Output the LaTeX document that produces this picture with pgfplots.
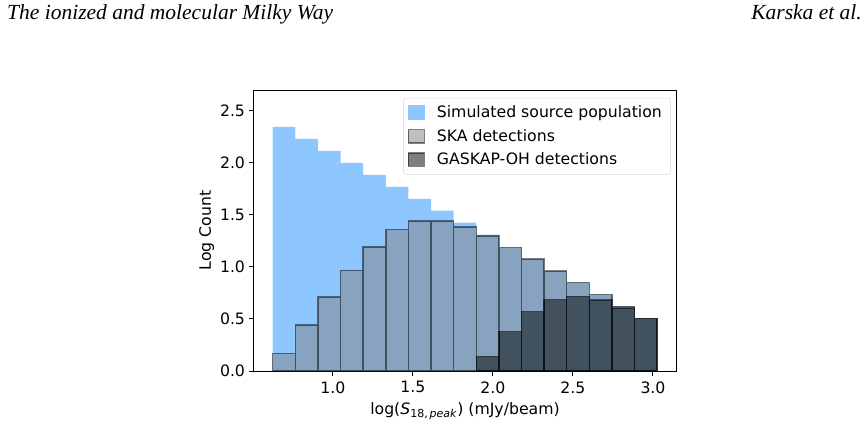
\documentclass[border=0pt]{standalone}
\usepackage{fontspec}
\setmainfont{DejaVu Sans}
\newfontfamily\headfont{Liberation Serif}
\usepackage{pgfplots}
\pgfplotsset{compat=1.18}

\definecolor{dodger}{RGB}{30,144,255}
\definecolor{legedge}{RGB}{210,210,210}

% bin edges (log S) and histogram heights (log count)
\pgfplotstableread{
x      y
0.624  2.346
0.765  2.230
0.907  2.115
1.048  2.000
1.189  1.885
1.331  1.769
1.472  1.654
1.613  1.540
1.755  1.425
1.896  1.310
2.037  1.186
2.179  1.074
2.320  0.960
2.461  0.850
2.603  0.734
2.744  0.620
2.885  0.503
3.026  0.000
}\simtab
\pgfplotstableread{
x      y
0.624  0.167
0.765  0.442
0.907  0.712
1.048  0.968
1.189  1.192
1.331  1.358
1.472  1.440
1.613  1.440
1.755  1.383
1.896  1.295
2.037  1.186
2.179  1.074
2.320  0.960
2.461  0.850
2.603  0.734
2.744  0.620
2.885  0.503
3.026  0.000
}\skatab
\pgfplotstableread{
x      y
1.896  0.141
2.037  0.378
2.179  0.571
2.320  0.686
2.461  0.718
2.603  0.683
2.744  0.603
2.885  0.503
3.026  0.000
}\gaskaptab

\newcommand\plotfont{\fontsize{15.7bp}{18bp}\selectfont}

\begin{document}
\begin{tikzpicture}[x=1bp,y=1bp]
\path (0,0) rectangle (867,427);
\node[anchor=base west,inner sep=0pt,font=\headfont\itshape\fontsize{21.5bp}{24bp}\selectfont] at (7,407) {The ionized and molecular Milky Way};
\node[anchor=base east,inner sep=0pt,font=\headfont\itshape\fontsize{21.5bp}{24bp}\selectfont] at (862,407) {Karska et al.};
\begin{axis}[
  at={(253.5bp,56bp)}, anchor=south west,
  scale only axis, width=423bp, height=281bp,
  xmin=0.504, xmax=3.147, ymin=0, ymax=2.70,
  xtick={1,1.5,2,2.5,3}, ytick={0,0.5,1,1.5,2,2.5},
  /pgf/number format/.cd, fixed, fixed zerofill, precision=1, assume math mode=true,
  /pgfplots/.cd,
  tick align=outside, major tick length=5bp,
  xtick pos=bottom, ytick pos=left,
  axis line style={line width=1bp},
  tick style={line width=1bp, black},
  ticklabel style={font=\plotfont},
  xticklabel style={yshift=-2bp},
  xlabel={log(\textit{S}\textsubscript{18,\,\textit{peak}}) (mJy/beam)},
  ylabel={Log Count},
  label style={font=\plotfont},
  xlabel style={yshift=-2bp},
  ylabel style={yshift=-1bp},
  legend style={at={(0.986,0.972)}, anchor=north east, draw=legedge, rounded corners=2.5bp,
    fill=white, font=\plotfont, row sep=6bp,
    inner xsep=4.5bp, inner ysep=6bp,
    nodes={inner xsep=4bp, inner ysep=2bp}},
  legend cell align=left,
]
\addplot[ybar interval, fill=dodger, fill opacity=0.5, draw=none,
  legend image code/.code={\fill[sharp corners,dodger,fill opacity=0.5] (0bp,-7.3bp) rectangle (17bp,7.3bp);
    \path[draw=none,fill=none] (0bp,0bp) -- (25bp,0bp);}]
  table[x=x,y=y] {\simtab};
\addlegendentry{Simulated source population}
\addplot[ybar interval, fill=gray, fill opacity=0.5, draw=black, draw opacity=0.5, line width=1.5bp,
  legend image code/.code={\filldraw[sharp corners,fill=gray,fill opacity=0.5,draw=black,draw opacity=0.5,line width=1.3bp] (0.6bp,-6.7bp) rectangle (16.4bp,6.7bp);
    \path[draw=none,fill=none] (0bp,0bp) -- (25bp,0bp);}]
  table[x=x,y=y] {\skatab};
\addlegendentry{SKA detections}
\addplot[ybar interval, fill=black, fill opacity=0.5, draw=black, draw opacity=0.5, line width=1.5bp,
  legend image code/.code={\filldraw[sharp corners,fill=black,fill opacity=0.5,draw=black,draw opacity=0.5,line width=1.3bp] (0.6bp,-6.7bp) rectangle (16.4bp,6.7bp);
    \path[draw=none,fill=none] (0bp,0bp) -- (25bp,0bp);}]
  table[x=x,y=y] {\gaskaptab};
\addlegendentry{GASKAP-OH detections}
\end{axis}
\end{tikzpicture}
\end{document}
